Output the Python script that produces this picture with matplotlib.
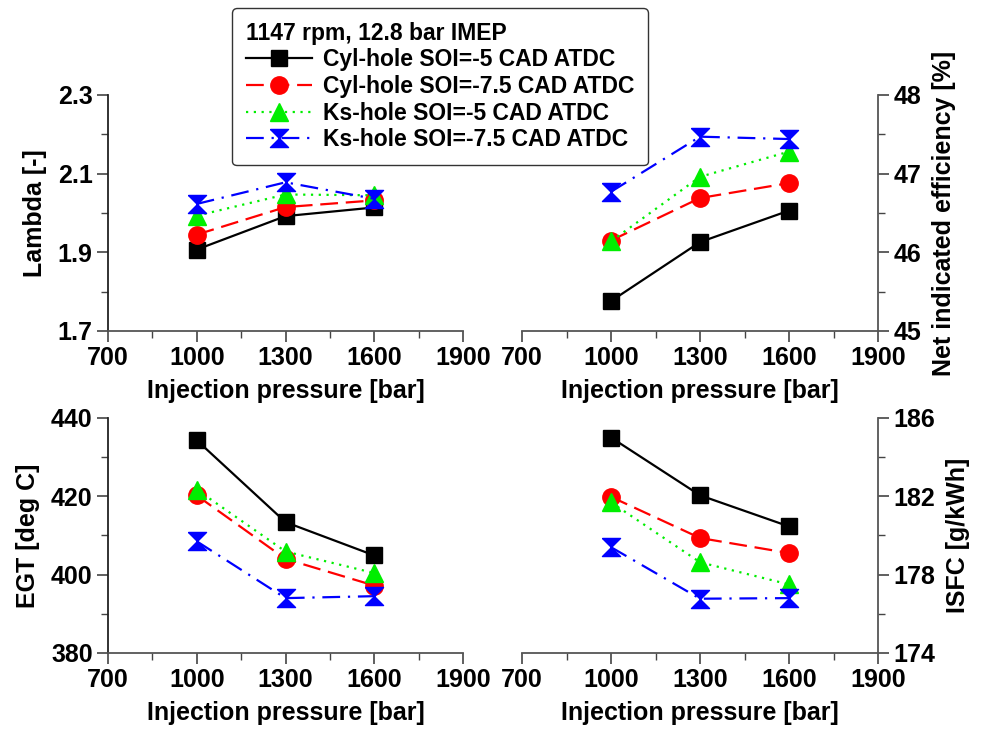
import matplotlib.pyplot as plt
from matplotlib.lines import Line2D

plt.rcParams['font.family'] = ['Liberation Sans', 'DejaVu Sans']
plt.rcParams['font.weight'] = 'bold'

# data
pressure = [1000, 1300, 1600]
labels = ["Cyl-hole SOI=-5 CAD ATDC", "Cyl-hole SOI=-7.5 CAD ATDC",
          "Ks-hole SOI=-5 CAD ATDC", "Ks-hole SOI=-7.5 CAD ATDC"]

lam_cyl5 = [1.907, 1.992, 2.014]
lam_cyl75 = [1.945, 2.015, 2.032]
lam_ks5 = [1.993, 2.047, 2.045]
lam_ks75 = [2.023, 2.078, 2.036]

eff_cyl5 = [45.38, 46.13, 46.53]
eff_cyl75 = [46.15, 46.69, 46.88]
eff_ks5 = [46.14, 46.96, 47.28]
eff_ks75 = [46.77, 47.47, 47.44]

egt_cyl5 = [434.3, 413.4, 404.9]
egt_cyl75 = [420.2, 404.0, 397.2]
egt_ks5 = [421.7, 405.9, 400.4]
egt_ks75 = [408.5, 394.0, 394.5]

isfc_cyl5 = [185.0, 182.05, 180.46]
isfc_cyl75 = [181.97, 179.87, 179.1]
isfc_ks5 = [181.69, 178.63, 177.5]
isfc_ks75 = [179.4, 176.77, 176.8]

hourglass = [(-1, 1), (1, 1), (-1, -1), (1, -1), (-1, 1)]
styles = [
    dict(color='black', ls='-', marker='s', ms=12),
    dict(color='red', ls=(0, (8, 3.5)), marker='o', ms=12.5),
    dict(color='#00ee00', ls=(0, (1, 2.5)), marker='^', ms=13),
    dict(color='blue', ls=(0, (8, 3.5, 1, 3.5)), marker=hourglass, ms=13),
]

fig = plt.figure(figsize=(9.82, 7.29), dpi=100)

boxes = [
    [0.110, 0.546, 0.3615, 0.3237],
    [0.5316, 0.546, 0.3625, 0.3237],
    [0.110, 0.1043, 0.3615, 0.3224],
    [0.5316, 0.1043, 0.3625, 0.3224],
]
panels = [
    ([lam_cyl5, lam_cyl75, lam_ks5, lam_ks75], (1.7, 2.3), [1.7, 1.9, 2.1, 2.3], "Lambda [-]", 'left'),
    ([eff_cyl5, eff_cyl75, eff_ks5, eff_ks75], (45, 48), [45, 46, 47, 48], "Net indicated efficiency [%]", 'right'),
    ([egt_cyl5, egt_cyl75, egt_ks5, egt_ks75], (380, 440), [380, 400, 420, 440], "EGT [deg C]", 'left'),
    ([isfc_cyl5, isfc_cyl75, isfc_ks5, isfc_ks75], (174, 186), [174, 178, 182, 186], "ISFC [g/kWh]", 'right'),
]

for box, (series, ylim, yticks, ylab, side) in zip(boxes, panels):
    ax = fig.add_axes(box)
    for ys, st in zip(series, styles):
        ax.plot(pressure, ys, lw=1.6, mec=st['color'], mfc=st['color'],
                color=st['color'], ls=st['ls'], marker=st['marker'], ms=st['ms'])
    ax.set_xlim(700, 1900)
    ax.set_xticks([700, 1000, 1300, 1600, 1900])
    ax.set_xticks([850, 1150, 1450, 1750], minor=True)
    ax.set_ylim(*ylim)
    ax.set_yticks(yticks)
    step = yticks[1] - yticks[0]
    ax.set_yticks([t + step / 2 for t in yticks[:-1]], minor=True)
    if 'Lambda' in ylab:
        ax.set_yticklabels(['1.7', '1.9', '2.1', '2.3'])
    ax.spines['top'].set_visible(False)
    other = 'right' if side == 'left' else 'left'
    ax.spines[other].set_visible(False)
    ax.spines['bottom'].set_color('#555555')
    ax.spines[side].set_color('#222222' if side == 'left' else '#555555')
    ax.spines['bottom'].set_linewidth(1.3)
    ax.spines[side].set_linewidth(1.3)
    ax.yaxis.set_ticks_position(side)
    ax.yaxis.set_label_position(side)
    ax.tick_params(which='major', length=8, width=1.2, labelsize=18, colors='#444444', labelcolor='black')
    ax.tick_params(which='minor', length=5, width=1.0, colors='#444444')
    ax.tick_params(axis='x', pad=3)
    ax.tick_params(axis='y', pad=3)
    ax.set_xlabel("Injection pressure [bar]", fontsize=18, fontweight='bold', labelpad=6)
    ax.set_ylabel(ylab, fontsize=18, fontweight='bold', labelpad=8)
    ax.patch.set_visible(False)

handles = [Line2D([], [], lw=1.6, color=st['color'], ls=st['ls'], marker=st['marker'],
                  ms=st['ms'], mfc=st['color'], mec=st['color']) for st in styles]
leg = fig.legend(handles, labels, title="1147 rpm, 12.8 bar IMEP",
                 loc='upper left', bbox_to_anchor=(232 / 982, 1 - 8 / 729),
                 fontsize=16.5, title_fontproperties={'weight': 'bold', 'size': 16.5},
                 alignment='left', handlelength=2.9, handletextpad=0.45,
                 labelspacing=0.16, borderpad=0.6, borderaxespad=0,
                 frameon=True, fancybox=True,
                 edgecolor='#333333', framealpha=1)
leg.get_frame().set_linewidth(1.0)
for t in leg.get_texts():
    t.set_fontweight('bold')

fig.savefig('out.png', dpi=100)
